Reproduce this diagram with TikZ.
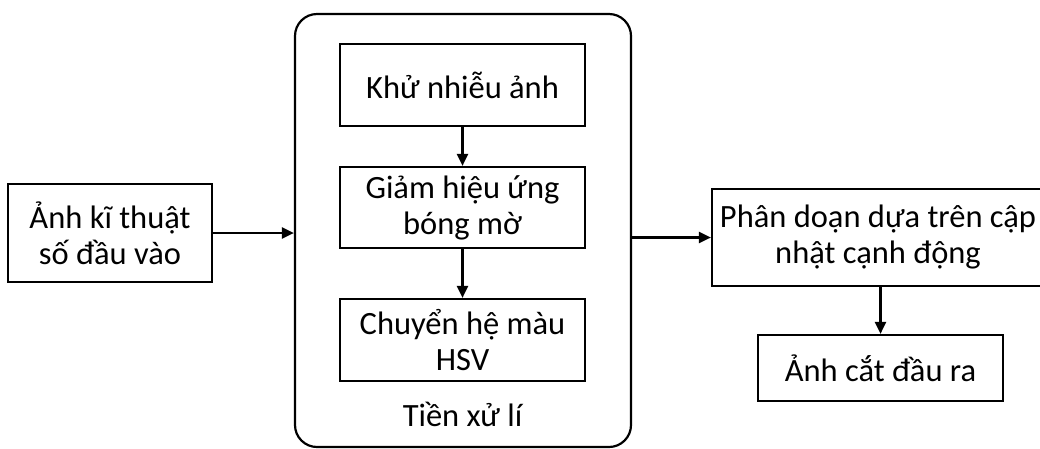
\documentclass[tikz,border=0pt]{standalone}
\usepackage{fontspec}
\setmainfont{Carlito}
\usetikzlibrary{arrows.meta}
\begin{document}
\begin{tikzpicture}[x=1pt,y=-1pt,
  box/.style={draw, line width=2.2pt, inner sep=0pt, align=center,
    font=\fontsize{32.5}{36}\selectfont},
  conn/.style={line width=2.2pt, -{Triangle[length=12pt,width=11pt]}},
  lbl/.style={inner sep=0pt, font=\fontsize{32.5}{36}\selectfont}]
\useasboundingbox (0,0) rectangle (1040,448);
\node[box, rounded corners=22pt, minimum width=336pt, minimum height=433pt] (pre) at (463,230.5) {};
\node[box, minimum width=204pt, minimum height=98pt] (in) at (110,233) {Ảnh kĩ thuật\\số đầu vào};
\node[box, minimum width=245pt, minimum height=82pt] (b1) at (462.5,85) {Khử nhiễu ảnh};
\node[box, minimum width=245pt, minimum height=81pt] (b2) at (462.5,207.5) {Giảm hiệu ứng\\bóng mờ};
\node[box, minimum width=245pt, minimum height=82pt] (b3) at (462.5,340) {Chuyển hệ màu\\HSV};
\node[lbl] (plbl) at (462.5,414) {Tiền xử lí};
\node[box, minimum width=332pt, minimum height=97pt] (seg) at (878,237.5) {Phân doạn dựa trên cập\\nhật cạnh động};
\node[box, minimum width=245pt, minimum height=66pt] (out) at (880.5,368) {Ảnh cắt đầu ra};
\draw[conn] (in.east) -- (pre.west |- in.east);
\draw[conn] (b1.south) -- (b2.north);
\draw[conn] (b2.south) -- (b3.north);
\draw[conn] (pre.east |- seg.west) -- (seg.west);
\draw[conn] (out.north |- seg.south) -- (out.north);
\end{tikzpicture}
\end{document}
